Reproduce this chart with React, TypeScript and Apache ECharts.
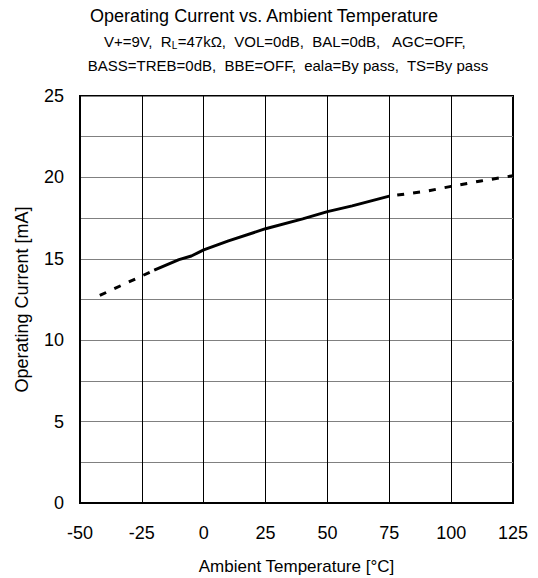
import React, { useEffect, useRef } from "react";
import * as echarts from "echarts";

const solidX = [-20, -10, -5, 0, 10, 25, 40, 50, 60, 75];
const solidY = [14.3, 14.95, 15.17, 15.55, 16.1, 16.85, 17.45, 17.9, 18.25, 18.85];
const dashLeftX = [-42, -20];
const dashLeftY = [12.75, 14.3];
const dashRightX = [75, 90, 100, 112, 125];
const dashRightY = [18.85, 19.15, 19.45, 19.78, 20.1];

const xTicks = { min: -50, max: 125, interval: 25 };
const yTicks = { min: 0, max: 25, interval: 2.5, labelEvery: 5 };

const FONT = "'Liberation Sans', Arial, sans-serif";

const zip = (xs: number[], ys: number[]) => xs.map((x, i) => [x, ys[i]]);

export default function App() {
  const ref = useRef<HTMLDivElement>(null);
  useEffect(() => {
    if (!ref.current) return;
    const chart = echarts.init(ref.current, undefined, { renderer: "svg" });
    chart.setOption({
      animation: false,
      backgroundColor: "#fff",
      textStyle: { fontFamily: FONT },
      grid: {
        left: 80,
        right: 25,
        top: 96,
        bottom: 75,
        containLabel: false,
        outerBoundsMode: "none",
        show: true,
        borderColor: "#000",
        borderWidth: 2,
        backgroundColor: "transparent",
      },
      graphic: [
        {
          type: "text",
          x: 264,
          y: 16,
          style: {
            text: "Operating Current vs. Ambient Temperature",
            font: `18px ${FONT}`,
            fill: "#000",
            align: "center",
            verticalAlign: "middle",
          },
        },
        {
          type: "text",
          x: 285,
          y: 41,
          style: {
            text: "{n|V+=9V,  R}{s|L}{n|=47kΩ,  VOL=0dB,  BAL=0dB,   AGC=OFF,}",
            align: "center",
            verticalAlign: "middle",
            fill: "#000",
            rich: {
              n: { fontSize: 15, fontFamily: FONT, fill: "#000", verticalAlign: "middle" },
              s: { fontSize: 10, fontFamily: FONT, fill: "#000", padding: [9, 0, 0, 0] },
            },
          },
        },
        {
          type: "text",
          x: 288,
          y: 65,
          style: {
            text: "BASS=TREB=0dB,  BBE=OFF,  eala=By pass,  TS=By pass",
            font: `15px ${FONT}`,
            fill: "#000",
            align: "center",
            verticalAlign: "middle",
          },
        },
      ],
      xAxis: {
        type: "value",
        min: xTicks.min,
        max: xTicks.max,
        interval: xTicks.interval,
        name: "Ambient Temperature [°C]",
        nameLocation: "middle",
        nameGap: 55,
        nameTextStyle: { fontSize: 17, color: "#000", fontFamily: FONT, lineHeight: 17 },
        axisLine: { show: true, onZero: false, lineStyle: { color: "#000", width: 2 } },
        axisTick: { show: false },
        axisLabel: { fontSize: 18, color: "#000", margin: 21, fontFamily: FONT },
        splitLine: { show: true, lineStyle: { color: "#000", width: 1 } },
      },
      yAxis: {
        type: "value",
        min: yTicks.min,
        max: yTicks.max,
        interval: yTicks.interval,
        name: "Operating Current [mA]",
        nameLocation: "middle",
        nameGap: 49,
        nameTextStyle: { fontSize: 18, color: "#000", fontFamily: FONT },
        axisLine: { show: true, onZero: false, lineStyle: { color: "#000", width: 2 } },
        axisTick: { show: false },
        axisLabel: {
          fontSize: 18,
          color: "#000",
          margin: 16,
          fontFamily: FONT,
          formatter: (v: number) => (v % yTicks.labelEvery === 0 ? String(v) : ""),
        },
        splitLine: { show: true, lineStyle: { color: "#808080", width: 1 } },
      },
      series: [
        {
          type: "line",
          data: zip(solidX, solidY),
          showSymbol: false,
          smooth: false,
          lineStyle: { color: "#000", width: 3 },
        },
        {
          type: "line",
          data: zip(dashLeftX, dashLeftY),
          showSymbol: false,
          lineStyle: { color: "#000", width: 3, type: [7, 9] },
        },
        {
          type: "line",
          data: zip(dashRightX, dashRightY),
          showSymbol: false,
          lineStyle: { color: "#000", width: 3, type: [7, 9], dashOffset: -8 },
        },
      ],
    });
    return () => chart.dispose();
  }, []);
  return (
    <div
      ref={ref}
      style={{ width: 538, height: 578, position: "absolute", left: 0, top: 0 }}
    />
  );
}
